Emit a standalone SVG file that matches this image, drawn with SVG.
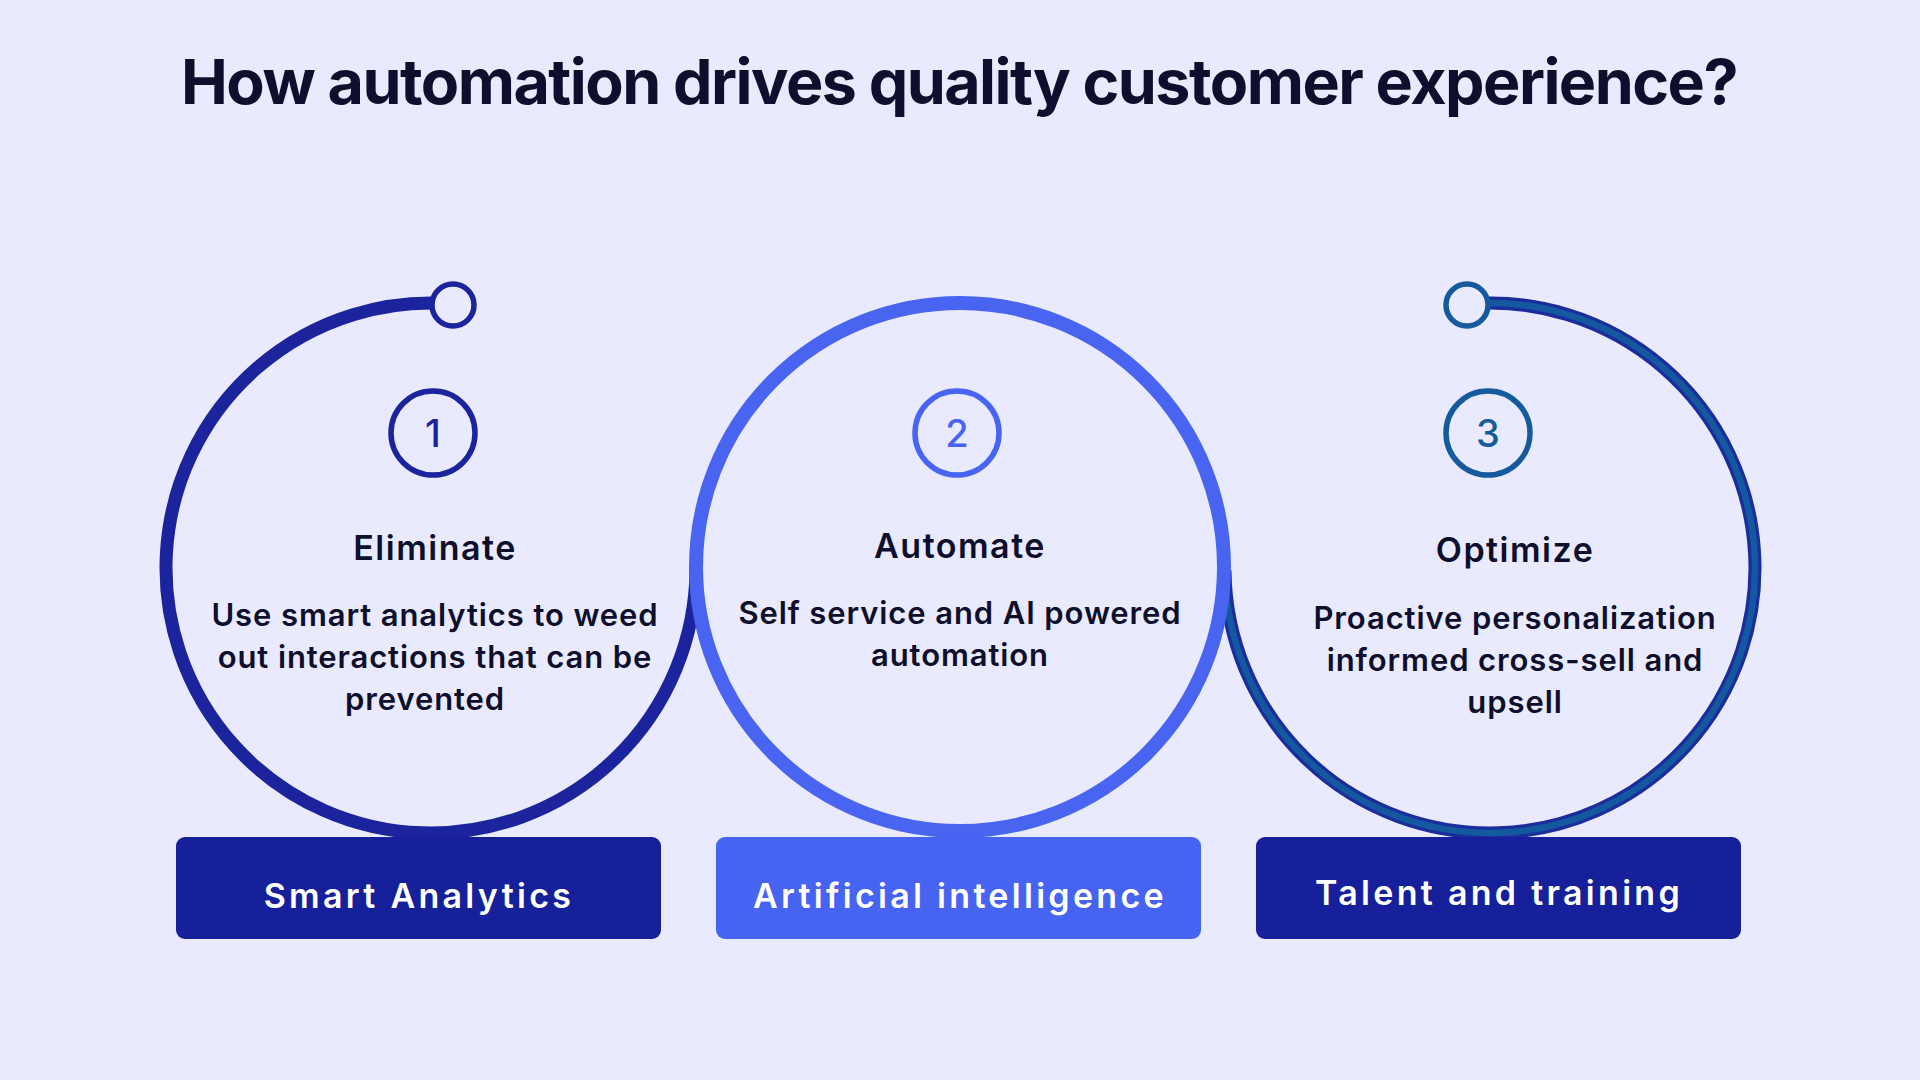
<svg xmlns="http://www.w3.org/2000/svg" width="1920" height="1080" viewBox="0 0 1920 1080">
  <style>
    .title { font-family: Inter, "Noto Sans", "Liberation Sans", sans-serif; font-weight: 700; font-size: 62px; fill: #0e0f2c; letter-spacing: -1.5px; }
    .head { font-family: Inter, "Noto Sans", "Liberation Sans", sans-serif; font-weight: 600; font-size: 34px; fill: #0e0f2c; text-anchor: middle; letter-spacing: 1.5px; }
    .body { font-family: Inter, "Noto Sans", "Liberation Sans", sans-serif; font-weight: 600; font-size: 31px; fill: #0e0f2c; text-anchor: middle; letter-spacing: 0.9px; }
    .num { font-family: Inter, "Noto Sans", "Liberation Sans", sans-serif; font-weight: 500; font-size: 38px; text-anchor: middle; }
    .lbl { font-family: Inter, "Noto Sans", "Liberation Sans", sans-serif; font-weight: 600; font-size: 34px; fill: #ffffff; text-anchor: middle; letter-spacing: 3.3px; }
    .ring { fill: #e9eafd; stroke-width: 5.5; }
  </style>
  <rect x="0" y="0" width="1920" height="1080" fill="#e9eafd"/>
  <text class="title" x="959" y="104" text-anchor="middle" textLength="1556" lengthAdjust="spacingAndGlyphs">How automation drives quality customer experience?</text>

  <g id="node-1">
    <path d="M 453.2 303.9 A 265 265 0 1 0 696 570.3" fill="none" stroke="#1b249c" stroke-width="13"/>
    <circle cx="453" cy="305" r="21" fill="#e9eafd" stroke="#1b249c" stroke-width="5.5"/>
  </g>
  <g id="node-3">
    <path d="M 1466.9 304 A 265 265 0 1 1 1225 570.3" fill="none" stroke="#1b2c9c" stroke-width="13"/>
    <path d="M 1466.9 304 A 265 265 0 1 1 1225 570.3" fill="none" stroke="#14589f" stroke-width="6.5"/>
    <circle cx="1467" cy="305" r="21" fill="#e9eafd" stroke="#155a9d" stroke-width="5.5"/>
  </g>
  <g id="node-2">
    <circle cx="960" cy="567" r="264" fill="#e9eafd" stroke="#4864f1" stroke-width="14"/>
  </g>

  <g id="node-1-content">
    <circle class="ring" cx="433" cy="433" r="42" stroke="#1b249c"/>
    <text class="num" x="433" y="447" fill="#1b249c">1</text>
    <text class="head" x="435" y="560">Eliminate</text>
    <text class="body" x="435" y="626">Use smart analytics to weed</text>
    <text class="body" x="435" y="668">out interactions that can be</text>
    <text class="body" x="425" y="710">prevented</text>
  </g>
  <g id="node-2-content">
    <circle class="ring" cx="957" cy="433" r="42" stroke="#4864f1"/>
    <text class="num" x="957" y="447" fill="#4864f1">2</text>
    <text class="head" x="960" y="558">Automate</text>
    <text class="body" x="960" y="624">Self service and AI powered</text>
    <text class="body" x="960" y="666">automation</text>
  </g>
  <g id="node-3-content">
    <circle class="ring" cx="1488" cy="433" r="42" stroke="#155a9d"/>
    <text class="num" x="1488" y="447" fill="#155a9d">3</text>
    <text class="head" x="1515" y="562">Optimize</text>
    <text class="body" x="1515" y="629">Proactive personalization</text>
    <text class="body" x="1515" y="671">informed cross-sell and</text>
    <text class="body" x="1515" y="713">upsell</text>
  </g>

  <g id="label-1">
    <rect x="176" y="837" width="485" height="102" rx="9" fill="#16209b"/>
    <text class="lbl" x="419" y="908">Smart Analytics</text>
  </g>
  <g id="label-2">
    <rect x="716" y="837" width="485" height="102" rx="9" fill="#4763f1"/>
    <text class="lbl" x="960" y="908">Artificial intelligence</text>
  </g>
  <g id="label-3">
    <rect x="1256" y="837" width="485" height="102" rx="9" fill="#16209b"/>
    <text class="lbl" x="1499" y="905">Talent and training</text>
  </g>
  <g id="connectors"/>
</svg>
